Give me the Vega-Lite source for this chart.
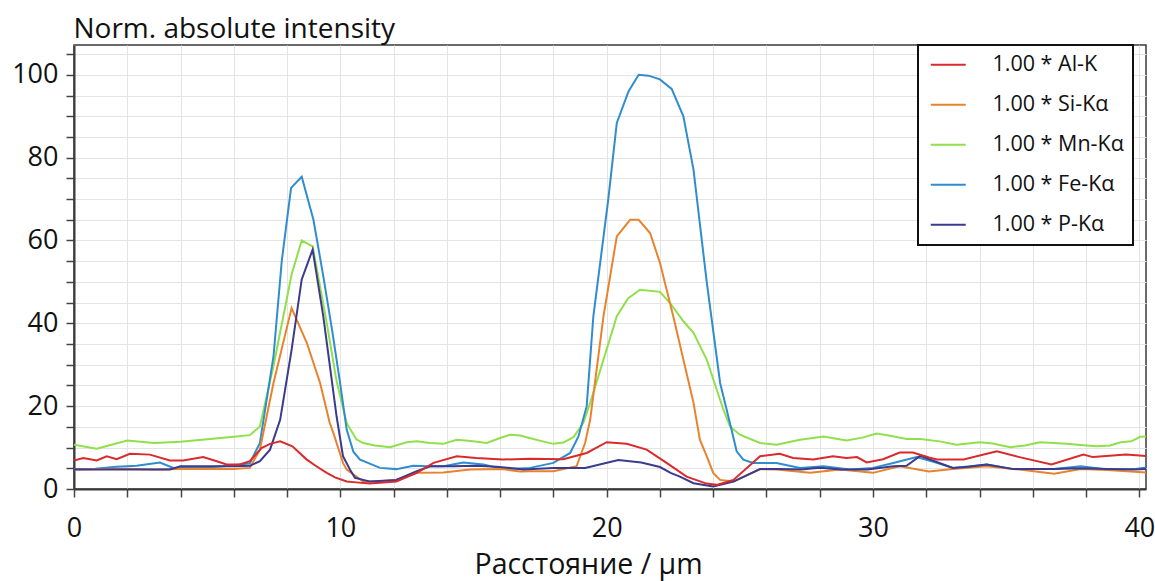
{
  "$schema": "https://vega.github.io/schema/vega-lite/v6.json",
  "width": 1072,
  "height": 444,
  "autosize": {"type": "none"},
  "padding": {"left": 74, "top": 45, "right": 9, "bottom": 92},
  "background": "white",
  "config": {
    "font": "Open Sans",
    "view": {"stroke": "#3a3a3a", "strokeWidth": 1.5},
    "axis": {
      "labelFont": "Open Sans",
      "titleFont": "Open Sans",
      "labelColor": "#111111",
      "titleColor": "#111111",
      "labelFontSize": 27,
      "titleFontWeight": "normal",
      "gridColor": "#e4e4e4",
      "gridWidth": 1,
      "tickColor": "#444444",
      "tickSize": 8,
      "tickWidth": 1.5,
      "domainColor": "#3a3a3a",
      "domainWidth": 2,
      "labelFlush": false,
      "labelOverlap": false
    },
    "legend": {
      "labelFont": "Open Sans",
      "labelFontSize": 21.5,
      "labelColor": "#111111"
    }
  },
  "data": {
    "values": [
      {"x": 0, "e": "Mn-Kα", "v": 10.7}, {"x": 0.85, "e": "Mn-Kα", "v": 9.7}, {"x": 2.0, "e": "Mn-Kα", "v": 11.7}, {"x": 3.0, "e": "Mn-Kα", "v": 11.1}, {"x": 4.0, "e": "Mn-Kα", "v": 11.4}, {"x": 5.0, "e": "Mn-Kα", "v": 12.0}, {"x": 6.0, "e": "Mn-Kα", "v": 12.6}, {"x": 6.6, "e": "Mn-Kα", "v": 13.0}, {"x": 6.98, "e": "Mn-Kα", "v": 15.1}, {"x": 7.5, "e": "Mn-Kα", "v": 30}, {"x": 8.17, "e": "Mn-Kα", "v": 51.8}, {"x": 8.55, "e": "Mn-Kα", "v": 60.0}, {"x": 8.96, "e": "Mn-Kα", "v": 58.6}, {"x": 9.49, "e": "Mn-Kα", "v": 40.1}, {"x": 9.86, "e": "Mn-Kα", "v": 26}, {"x": 10.24, "e": "Mn-Kα", "v": 15.9}, {"x": 10.6, "e": "Mn-Kα", "v": 12.0}, {"x": 10.86, "e": "Mn-Kα", "v": 11.1}, {"x": 11.3, "e": "Mn-Kα", "v": 10.5}, {"x": 11.87, "e": "Mn-Kα", "v": 10.1}, {"x": 12.49, "e": "Mn-Kα", "v": 11.3}, {"x": 12.87, "e": "Mn-Kα", "v": 11.5}, {"x": 13.37, "e": "Mn-Kα", "v": 11.1}, {"x": 13.87, "e": "Mn-Kα", "v": 10.9}, {"x": 14.37, "e": "Mn-Kα", "v": 11.9}, {"x": 14.9, "e": "Mn-Kα", "v": 11.6}, {"x": 15.5, "e": "Mn-Kα", "v": 11.1}, {"x": 16.0, "e": "Mn-Kα", "v": 12.3}, {"x": 16.37, "e": "Mn-Kα", "v": 13.1}, {"x": 16.75, "e": "Mn-Kα", "v": 12.9}, {"x": 17.1, "e": "Mn-Kα", "v": 12.3}, {"x": 17.6, "e": "Mn-Kα", "v": 11.5}, {"x": 18.0, "e": "Mn-Kα", "v": 10.9}, {"x": 18.37, "e": "Mn-Kα", "v": 11.2}, {"x": 18.75, "e": "Mn-Kα", "v": 12.5}, {"x": 19.12, "e": "Mn-Kα", "v": 15.9}, {"x": 19.38, "e": "Mn-Kα", "v": 20.8}, {"x": 19.88, "e": "Mn-Kα", "v": 31.2}, {"x": 20.38, "e": "Mn-Kα", "v": 41.7}, {"x": 20.8, "e": "Mn-Kα", "v": 46.0}, {"x": 21.25, "e": "Mn-Kα", "v": 48.1}, {"x": 22.0, "e": "Mn-Kα", "v": 47.6}, {"x": 22.38, "e": "Mn-Kα", "v": 44.9}, {"x": 22.88, "e": "Mn-Kα", "v": 40.5}, {"x": 23.26, "e": "Mn-Kα", "v": 37.7}, {"x": 23.76, "e": "Mn-Kα", "v": 31.2}, {"x": 24.38, "e": "Mn-Kα", "v": 19.2}, {"x": 24.63, "e": "Mn-Kα", "v": 15.1}, {"x": 25.0, "e": "Mn-Kα", "v": 13.1}, {"x": 25.76, "e": "Mn-Kα", "v": 11.1}, {"x": 26.38, "e": "Mn-Kα", "v": 10.7}, {"x": 27.26, "e": "Mn-Kα", "v": 11.9}, {"x": 28.14, "e": "Mn-Kα", "v": 12.7}, {"x": 29.0, "e": "Mn-Kα", "v": 11.7}, {"x": 29.6, "e": "Mn-Kα", "v": 12.4}, {"x": 30.13, "e": "Mn-Kα", "v": 13.4}, {"x": 30.7, "e": "Mn-Kα", "v": 12.8}, {"x": 31.26, "e": "Mn-Kα", "v": 12.1}, {"x": 31.77, "e": "Mn-Kα", "v": 12.1}, {"x": 32.5, "e": "Mn-Kα", "v": 11.5}, {"x": 33.14, "e": "Mn-Kα", "v": 10.7}, {"x": 34.0, "e": "Mn-Kα", "v": 11.3}, {"x": 34.5, "e": "Mn-Kα", "v": 11.0}, {"x": 35.15, "e": "Mn-Kα", "v": 10.1}, {"x": 35.7, "e": "Mn-Kα", "v": 10.5}, {"x": 36.27, "e": "Mn-Kα", "v": 11.3}, {"x": 37.28, "e": "Mn-Kα", "v": 10.9}, {"x": 37.8, "e": "Mn-Kα", "v": 10.6}, {"x": 38.4, "e": "Mn-Kα", "v": 10.3}, {"x": 38.9, "e": "Mn-Kα", "v": 10.5}, {"x": 39.3, "e": "Mn-Kα", "v": 11.3}, {"x": 39.7, "e": "Mn-Kα", "v": 11.5}, {"x": 40.03, "e": "Mn-Kα", "v": 12.6}, {"x": 40.4, "e": "Mn-Kα", "v": 12.7},

      {"x": 0, "e": "Fe-Kα", "v": 4.8}, {"x": 0.8, "e": "Fe-Kα", "v": 4.9}, {"x": 1.6, "e": "Fe-Kα", "v": 5.4}, {"x": 2.35, "e": "Fe-Kα", "v": 5.6}, {"x": 3.23, "e": "Fe-Kα", "v": 6.4}, {"x": 3.73, "e": "Fe-Kα", "v": 5.1}, {"x": 4.4, "e": "Fe-Kα", "v": 5.2}, {"x": 5.2, "e": "Fe-Kα", "v": 5.3}, {"x": 5.86, "e": "Fe-Kα", "v": 5.6}, {"x": 6.6, "e": "Fe-Kα", "v": 6.2}, {"x": 6.98, "e": "Fe-Kα", "v": 11.1}, {"x": 7.49, "e": "Fe-Kα", "v": 32}, {"x": 7.8, "e": "Fe-Kα", "v": 55}, {"x": 8.15, "e": "Fe-Kα", "v": 72.7}, {"x": 8.55, "e": "Fe-Kα", "v": 75.4}, {"x": 8.99, "e": "Fe-Kα", "v": 65.0}, {"x": 9.36, "e": "Fe-Kα", "v": 51.4}, {"x": 9.7, "e": "Fe-Kα", "v": 38}, {"x": 9.99, "e": "Fe-Kα", "v": 25.6}, {"x": 10.24, "e": "Fe-Kα", "v": 14.3}, {"x": 10.49, "e": "Fe-Kα", "v": 9.0}, {"x": 10.74, "e": "Fe-Kα", "v": 7.1}, {"x": 11.49, "e": "Fe-Kα", "v": 5.1}, {"x": 12.1, "e": "Fe-Kα", "v": 4.8}, {"x": 12.74, "e": "Fe-Kα", "v": 5.6}, {"x": 13.3, "e": "Fe-Kα", "v": 5.5}, {"x": 13.87, "e": "Fe-Kα", "v": 5.5}, {"x": 14.62, "e": "Fe-Kα", "v": 6.4}, {"x": 15.37, "e": "Fe-Kα", "v": 5.9}, {"x": 16.12, "e": "Fe-Kα", "v": 4.8}, {"x": 17.12, "e": "Fe-Kα", "v": 5.1}, {"x": 18.0, "e": "Fe-Kα", "v": 6.3}, {"x": 18.63, "e": "Fe-Kα", "v": 8.7}, {"x": 18.94, "e": "Fe-Kα", "v": 12.7}, {"x": 19.25, "e": "Fe-Kα", "v": 20}, {"x": 19.5, "e": "Fe-Kα", "v": 41.7}, {"x": 20.06, "e": "Fe-Kα", "v": 69.9}, {"x": 20.38, "e": "Fe-Kα", "v": 88.4}, {"x": 20.82, "e": "Fe-Kα", "v": 96.0}, {"x": 21.2, "e": "Fe-Kα", "v": 100.0}, {"x": 21.57, "e": "Fe-Kα", "v": 99.8}, {"x": 22.0, "e": "Fe-Kα", "v": 98.9}, {"x": 22.44, "e": "Fe-Kα", "v": 96.6}, {"x": 22.88, "e": "Fe-Kα", "v": 90}, {"x": 23.26, "e": "Fe-Kα", "v": 77.1}, {"x": 23.76, "e": "Fe-Kα", "v": 49.8}, {"x": 24.26, "e": "Fe-Kα", "v": 25.6}, {"x": 24.63, "e": "Fe-Kα", "v": 15.9}, {"x": 24.88, "e": "Fe-Kα", "v": 9.1}, {"x": 25.13, "e": "Fe-Kα", "v": 7.1}, {"x": 25.5, "e": "Fe-Kα", "v": 6.3}, {"x": 26.38, "e": "Fe-Kα", "v": 6.3}, {"x": 27.26, "e": "Fe-Kα", "v": 5.1}, {"x": 28.14, "e": "Fe-Kα", "v": 5.5}, {"x": 29.14, "e": "Fe-Kα", "v": 4.7}, {"x": 30.0, "e": "Fe-Kα", "v": 5.1}, {"x": 30.76, "e": "Fe-Kα", "v": 6.3}, {"x": 31.64, "e": "Fe-Kα", "v": 7.7}, {"x": 32.3, "e": "Fe-Kα", "v": 6.5}, {"x": 33.0, "e": "Fe-Kα", "v": 5.1}, {"x": 34.27, "e": "Fe-Kα", "v": 5.9}, {"x": 35.27, "e": "Fe-Kα", "v": 4.8}, {"x": 36.8, "e": "Fe-Kα", "v": 4.8}, {"x": 37.8, "e": "Fe-Kα", "v": 5.5}, {"x": 38.8, "e": "Fe-Kα", "v": 4.7}, {"x": 39.8, "e": "Fe-Kα", "v": 4.8}, {"x": 40.4, "e": "Fe-Kα", "v": 5.3},

      {"x": 0, "e": "Si-Kα", "v": 4.7}, {"x": 1.0, "e": "Si-Kα", "v": 4.8}, {"x": 2.0, "e": "Si-Kα", "v": 4.9}, {"x": 3.0, "e": "Si-Kα", "v": 4.7}, {"x": 4.0, "e": "Si-Kα", "v": 4.8}, {"x": 5.0, "e": "Si-Kα", "v": 4.9}, {"x": 6.0, "e": "Si-Kα", "v": 4.8}, {"x": 6.6, "e": "Si-Kα", "v": 5.1}, {"x": 6.98, "e": "Si-Kα", "v": 9.5}, {"x": 7.49, "e": "Si-Kα", "v": 25.6}, {"x": 8.17, "e": "Si-Kα", "v": 43.7}, {"x": 8.74, "e": "Si-Kα", "v": 35.3}, {"x": 9.24, "e": "Si-Kα", "v": 25.6}, {"x": 9.6, "e": "Si-Kα", "v": 16}, {"x": 9.74, "e": "Si-Kα", "v": 13.5}, {"x": 10.1, "e": "Si-Kα", "v": 6.3}, {"x": 10.24, "e": "Si-Kα", "v": 4.7}, {"x": 10.86, "e": "Si-Kα", "v": 1.8}, {"x": 11.5, "e": "Si-Kα", "v": 1.9}, {"x": 12.1, "e": "Si-Kα", "v": 2.2}, {"x": 12.87, "e": "Si-Kα", "v": 3.9}, {"x": 13.87, "e": "Si-Kα", "v": 4.0}, {"x": 14.87, "e": "Si-Kα", "v": 4.7}, {"x": 16.1, "e": "Si-Kα", "v": 4.8}, {"x": 16.75, "e": "Si-Kα", "v": 4.2}, {"x": 17.1, "e": "Si-Kα", "v": 4.3}, {"x": 18.0, "e": "Si-Kα", "v": 4.3}, {"x": 18.87, "e": "Si-Kα", "v": 5.5}, {"x": 19.19, "e": "Si-Kα", "v": 11.1}, {"x": 19.38, "e": "Si-Kα", "v": 16.7}, {"x": 19.88, "e": "Si-Kα", "v": 41.7}, {"x": 20.38, "e": "Si-Kα", "v": 61.0}, {"x": 20.88, "e": "Si-Kα", "v": 65.0}, {"x": 21.2, "e": "Si-Kα", "v": 65.0}, {"x": 21.63, "e": "Si-Kα", "v": 61.8}, {"x": 22.0, "e": "Si-Kα", "v": 54.6}, {"x": 22.5, "e": "Si-Kα", "v": 41.7}, {"x": 23.26, "e": "Si-Kα", "v": 20.8}, {"x": 23.5, "e": "Si-Kα", "v": 11.9}, {"x": 23.76, "e": "Si-Kα", "v": 7.9}, {"x": 24.0, "e": "Si-Kα", "v": 3.9}, {"x": 24.26, "e": "Si-Kα", "v": 2.2}, {"x": 24.76, "e": "Si-Kα", "v": 1.8}, {"x": 25.76, "e": "Si-Kα", "v": 4.8}, {"x": 26.38, "e": "Si-Kα", "v": 4.7}, {"x": 27.64, "e": "Si-Kα", "v": 3.9}, {"x": 28.77, "e": "Si-Kα", "v": 4.7}, {"x": 30.0, "e": "Si-Kα", "v": 3.9}, {"x": 31.0, "e": "Si-Kα", "v": 5.5}, {"x": 32.1, "e": "Si-Kα", "v": 4.2}, {"x": 33.0, "e": "Si-Kα", "v": 4.8}, {"x": 34.27, "e": "Si-Kα", "v": 5.5}, {"x": 35.5, "e": "Si-Kα", "v": 4.7}, {"x": 36.8, "e": "Si-Kα", "v": 3.7}, {"x": 37.8, "e": "Si-Kα", "v": 4.8}, {"x": 38.8, "e": "Si-Kα", "v": 4.6}, {"x": 40.4, "e": "Si-Kα", "v": 3.9},

      {"x": 0, "e": "P-Kα", "v": 4.7}, {"x": 1.5, "e": "P-Kα", "v": 4.7}, {"x": 3.6, "e": "P-Kα", "v": 4.7}, {"x": 4.0, "e": "P-Kα", "v": 5.5}, {"x": 5.0, "e": "P-Kα", "v": 5.5}, {"x": 6.0, "e": "P-Kα", "v": 5.5}, {"x": 6.6, "e": "P-Kα", "v": 5.6}, {"x": 6.98, "e": "P-Kα", "v": 6.7}, {"x": 7.36, "e": "P-Kα", "v": 9.5}, {"x": 7.74, "e": "P-Kα", "v": 16.7}, {"x": 8.17, "e": "P-Kα", "v": 33.6}, {"x": 8.55, "e": "P-Kα", "v": 50.6}, {"x": 8.96, "e": "P-Kα", "v": 57.8}, {"x": 9.36, "e": "P-Kα", "v": 41.7}, {"x": 9.86, "e": "P-Kα", "v": 17.5}, {"x": 10.1, "e": "P-Kα", "v": 7.9}, {"x": 10.36, "e": "P-Kα", "v": 4.7}, {"x": 10.55, "e": "P-Kα", "v": 2.7}, {"x": 10.86, "e": "P-Kα", "v": 2.2}, {"x": 11.1, "e": "P-Kα", "v": 1.8}, {"x": 12.1, "e": "P-Kα", "v": 2.2}, {"x": 12.87, "e": "P-Kα", "v": 4.3}, {"x": 13.37, "e": "P-Kα", "v": 5.5}, {"x": 14.24, "e": "P-Kα", "v": 5.5}, {"x": 15.1, "e": "P-Kα", "v": 5.6}, {"x": 15.87, "e": "P-Kα", "v": 5.4}, {"x": 16.87, "e": "P-Kα", "v": 4.7}, {"x": 18.0, "e": "P-Kα", "v": 5.1}, {"x": 19.19, "e": "P-Kα", "v": 5.1}, {"x": 20.44, "e": "P-Kα", "v": 7.0}, {"x": 21.3, "e": "P-Kα", "v": 6.4}, {"x": 22.0, "e": "P-Kα", "v": 5.3}, {"x": 22.4, "e": "P-Kα", "v": 3.9}, {"x": 22.75, "e": "P-Kα", "v": 3.0}, {"x": 23.26, "e": "P-Kα", "v": 1.4}, {"x": 24.0, "e": "P-Kα", "v": 0.6}, {"x": 24.5, "e": "P-Kα", "v": 1.4}, {"x": 24.76, "e": "P-Kα", "v": 1.8}, {"x": 25.76, "e": "P-Kα", "v": 4.8}, {"x": 26.5, "e": "P-Kα", "v": 4.8}, {"x": 27.3, "e": "P-Kα", "v": 4.7}, {"x": 28.0, "e": "P-Kα", "v": 5.1}, {"x": 28.8, "e": "P-Kα", "v": 4.7}, {"x": 29.8, "e": "P-Kα", "v": 4.7}, {"x": 30.76, "e": "P-Kα", "v": 5.5}, {"x": 31.26, "e": "P-Kα", "v": 5.6}, {"x": 31.77, "e": "P-Kα", "v": 8.0}, {"x": 33.0, "e": "P-Kα", "v": 5.1}, {"x": 33.6, "e": "P-Kα", "v": 5.4}, {"x": 34.27, "e": "P-Kα", "v": 5.9}, {"x": 35.27, "e": "P-Kα", "v": 4.8}, {"x": 36.8, "e": "P-Kα", "v": 4.8}, {"x": 37.8, "e": "P-Kα", "v": 5.0}, {"x": 38.8, "e": "P-Kα", "v": 4.8}, {"x": 39.8, "e": "P-Kα", "v": 4.7}, {"x": 40.4, "e": "P-Kα", "v": 4.9},

      {"x": 0, "e": "Al-K", "v": 6.9}, {"x": 0.35, "e": "Al-K", "v": 7.5}, {"x": 0.85, "e": "Al-K", "v": 6.9}, {"x": 1.23, "e": "Al-K", "v": 7.9}, {"x": 1.6, "e": "Al-K", "v": 7.2}, {"x": 2.1, "e": "Al-K", "v": 8.5}, {"x": 2.85, "e": "Al-K", "v": 8.3}, {"x": 3.6, "e": "Al-K", "v": 6.9}, {"x": 4.1, "e": "Al-K", "v": 6.9}, {"x": 4.85, "e": "Al-K", "v": 7.7}, {"x": 5.36, "e": "Al-K", "v": 6.7}, {"x": 5.73, "e": "Al-K", "v": 5.9}, {"x": 6.23, "e": "Al-K", "v": 5.9}, {"x": 6.6, "e": "Al-K", "v": 6.7}, {"x": 7.04, "e": "Al-K", "v": 9.9}, {"x": 7.36, "e": "Al-K", "v": 10.9}, {"x": 7.74, "e": "Al-K", "v": 11.5}, {"x": 8.2, "e": "Al-K", "v": 10.3}, {"x": 8.74, "e": "Al-K", "v": 7.1}, {"x": 9.1, "e": "Al-K", "v": 5.5}, {"x": 9.49, "e": "Al-K", "v": 3.9}, {"x": 9.8, "e": "Al-K", "v": 2.8}, {"x": 10.24, "e": "Al-K", "v": 1.8}, {"x": 10.6, "e": "Al-K", "v": 1.6}, {"x": 11.1, "e": "Al-K", "v": 1.3}, {"x": 12.1, "e": "Al-K", "v": 1.8}, {"x": 12.87, "e": "Al-K", "v": 3.9}, {"x": 13.5, "e": "Al-K", "v": 6.3}, {"x": 14.37, "e": "Al-K", "v": 7.9}, {"x": 15.1, "e": "Al-K", "v": 7.5}, {"x": 16.1, "e": "Al-K", "v": 7.1}, {"x": 17.1, "e": "Al-K", "v": 7.3}, {"x": 18.37, "e": "Al-K", "v": 7.2}, {"x": 19.25, "e": "Al-K", "v": 8.7}, {"x": 20.0, "e": "Al-K", "v": 11.3}, {"x": 20.75, "e": "Al-K", "v": 10.9}, {"x": 21.5, "e": "Al-K", "v": 9.5}, {"x": 22.25, "e": "Al-K", "v": 6.3}, {"x": 23.0, "e": "Al-K", "v": 3.0}, {"x": 23.75, "e": "Al-K", "v": 1.3}, {"x": 24.13, "e": "Al-K", "v": 1.0}, {"x": 24.76, "e": "Al-K", "v": 2.2}, {"x": 25.76, "e": "Al-K", "v": 7.9}, {"x": 26.5, "e": "Al-K", "v": 8.5}, {"x": 27.0, "e": "Al-K", "v": 7.5}, {"x": 27.76, "e": "Al-K", "v": 7.1}, {"x": 28.5, "e": "Al-K", "v": 7.9}, {"x": 29.0, "e": "Al-K", "v": 7.5}, {"x": 29.4, "e": "Al-K", "v": 7.7}, {"x": 29.76, "e": "Al-K", "v": 6.4}, {"x": 30.38, "e": "Al-K", "v": 7.2}, {"x": 31.0, "e": "Al-K", "v": 8.8}, {"x": 31.5, "e": "Al-K", "v": 8.8}, {"x": 32.1, "e": "Al-K", "v": 7.6}, {"x": 32.4, "e": "Al-K", "v": 7.1}, {"x": 33.4, "e": "Al-K", "v": 7.1}, {"x": 34.65, "e": "Al-K", "v": 9.1}, {"x": 35.5, "e": "Al-K", "v": 7.7}, {"x": 36.7, "e": "Al-K", "v": 5.9}, {"x": 37.9, "e": "Al-K", "v": 8.3}, {"x": 38.26, "e": "Al-K", "v": 7.7}, {"x": 39.5, "e": "Al-K", "v": 8.3}, {"x": 40.4, "e": "Al-K", "v": 7.9}
    ]
  },
  "mark": {"type": "line", "strokeWidth": 2, "clip": true},
  "encoding": {
    "x": {
      "field": "x",
      "type": "quantitative",
      "scale": {"domain": [0, 40.25], "nice": false, "zero": false},
      "axis": {
        "title": "Расстояние / µm",
        "values": [0, 2, 4, 6, 8, 10, 12, 14, 16, 18, 20, 22, 24, 26, 28, 30, 32, 34, 36, 38, 40],
        "labelExpr": "datum.value % 10 === 0 ? datum.label : ''",
        "labelPadding": 18,
        "titleFontSize": 28.5,
        "titleAlign": "center",
        "titleBaseline": "alphabetic",
        "titleX": 514,
        "titleY": 84
      }
    },
    "y": {
      "field": "v",
      "type": "quantitative",
      "scale": {"domain": [0, 107.2], "nice": false},
      "axis": {
        "title": "Norm. absolute intensity",
        "values": [0, 5, 10, 15, 20, 25, 30, 35, 40, 45, 50, 55, 60, 65, 70, 75, 80, 85, 90, 95, 100, 105],
        "labelExpr": "datum.value % 20 === 0 ? datum.label : ''",
        "labelPadding": 8,
        "titleAngle": 0,
        "titleAlign": "left",
        "titleBaseline": "alphabetic",
        "titleX": -1,
        "titleY": -8,
        "titleFontSize": 28
      }
    },
    "color": {
      "field": "e",
      "type": "nominal",
      "scale": {
        "domain": ["Al-K", "Si-Kα", "Mn-Kα", "Fe-Kα", "P-Kα"],
        "range": ["#d92a2c", "#e8832c", "#8fe04a", "#2f8dcf", "#3b3a8e"]
      },
      "legend": {
        "title": null,
        "orient": "none",
        "legendX": 844,
        "legendY": 0,
        "labelExpr": "'1.00 * ' + datum.label",
        "symbolType": "M-2,0H2",
        "symbolSize": 306,
        "symbolStrokeWidth": 2,
        "symbolOffset": 10.5,
        "labelOffset": 33.5,
        "rowPadding": 17,
        "padding": 9,
        "strokeColor": "#111111",
        "fillColor": "white",
        "encode": {
          "legend": {"update": {"strokeWidth": {"value": 2}}}
        }
      }
    }
  }
}
